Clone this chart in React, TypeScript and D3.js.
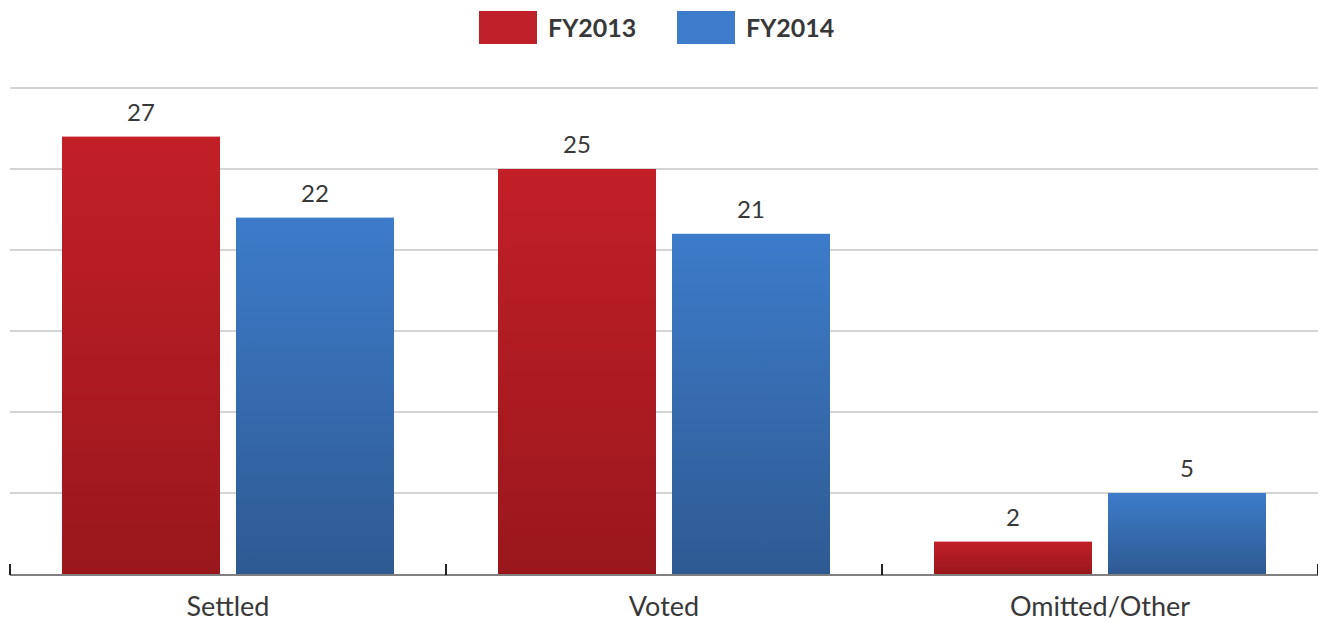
import React from "react";
import * as d3 from "d3";

const categories = ["Settled", "Voted", "Omitted/Other"];
const seriesNames = ["FY2013", "FY2014"];
const fy2013 = [27, 25, 2];
const fy2014 = [22, 21, 5];
const yTicks = [0, 5, 10, 15, 20, 25, 30];

const W = 1318;
const H = 622;
const FONT = "Lato, 'Open Sans', sans-serif";

export default function App() {
  const left = 10;
  const right = 1318;
  const top = 88;
  const bottom = 574;

  const x = d3.scaleBand<string>().domain(categories).range([left, right]).paddingInner(0).paddingOuter(0);
  const y = d3.scaleLinear().domain([0, 30]).range([bottom, top]);
  const inner = d3
    .scaleBand<string>()
    .domain(seriesNames)
    .range([52, x.bandwidth() - 52])
    .paddingInner(16 / 174);

  const series = [
    { name: seriesNames[0], values: fy2013, grad: "gRed", legend: "#C0202A" },
    { name: seriesNames[1], values: fy2014, grad: "gBlue", legend: "#3D7CCA" },
  ];

  const tickXs = [...categories.map((c) => x(c)!), right];

  return (
    <svg width={W} height={H} style={{ display: "block", position: "absolute", left: 0, top: 0 }}>
      <defs>
        <linearGradient id="gRed" x1="0" y1="0" x2="0" y2="1">
          <stop offset="0" stopColor="#C21F27" />
          <stop offset="1" stopColor="#99171C" />
        </linearGradient>
        <linearGradient id="gBlue" x1="0" y1="0" x2="0" y2="1">
          <stop offset="0" stopColor="#3D7CCA" />
          <stop offset="1" stopColor="#2E5A92" />
        </linearGradient>
      </defs>
      <rect width={W} height={H} fill="#fff" />
      {yTicks
        .filter((t) => t > 0)
        .map((t) => (
          <line key={t} x1={left} x2={right} y1={y(t)} y2={y(t)} stroke="#C6C6C6" strokeWidth={1.5} />
        ))}
      {series.map((s) =>
        categories.map((c, i) => {
          const bx = x(c)! + inner(s.name)!;
          const by = y(s.values[i]);
          return (
            <g key={s.name + c}>
              <rect x={bx} y={by} width={inner.bandwidth()} height={bottom - by} fill={`url(#${s.grad})`} />
              <text
                x={bx + inner.bandwidth() / 2}
                y={by - 16}
                textAnchor="middle"
                fontFamily={FONT}
                fontSize={24}
                fill="#383838"
              >
                {s.values[i]}
              </text>
            </g>
          );
        })
      )}
      <line x1={left} x2={right} y1={bottom + 1} y2={bottom + 1} stroke="#808080" strokeWidth={2} />
      {tickXs.map((tx, i) => (
        <line key={i} x1={tx} x2={tx} y1={bottom - 10} y2={bottom + 1} stroke="#222" strokeWidth={2} />
      ))}
      {categories.map((c) => (
        <text
          key={c}
          x={x(c)! + x.bandwidth() / 2}
          y={616}
          textAnchor="middle"
          fontFamily={FONT}
          fontSize={27}
          fill="#383838"
        >
          {c}
        </text>
      ))}
      {series.map((s, i) => {
        const lx = i === 0 ? 479 : 677;
        return (
          <g key={s.name}>
            <rect x={lx} y={11} width={58} height={33} fill={s.legend} />
            <text x={lx + 69} y={37} fontFamily={FONT} fontWeight="bold" fontSize={25} fill="#383838">
              {s.name}
            </text>
          </g>
        );
      })}
    </svg>
  );
}
